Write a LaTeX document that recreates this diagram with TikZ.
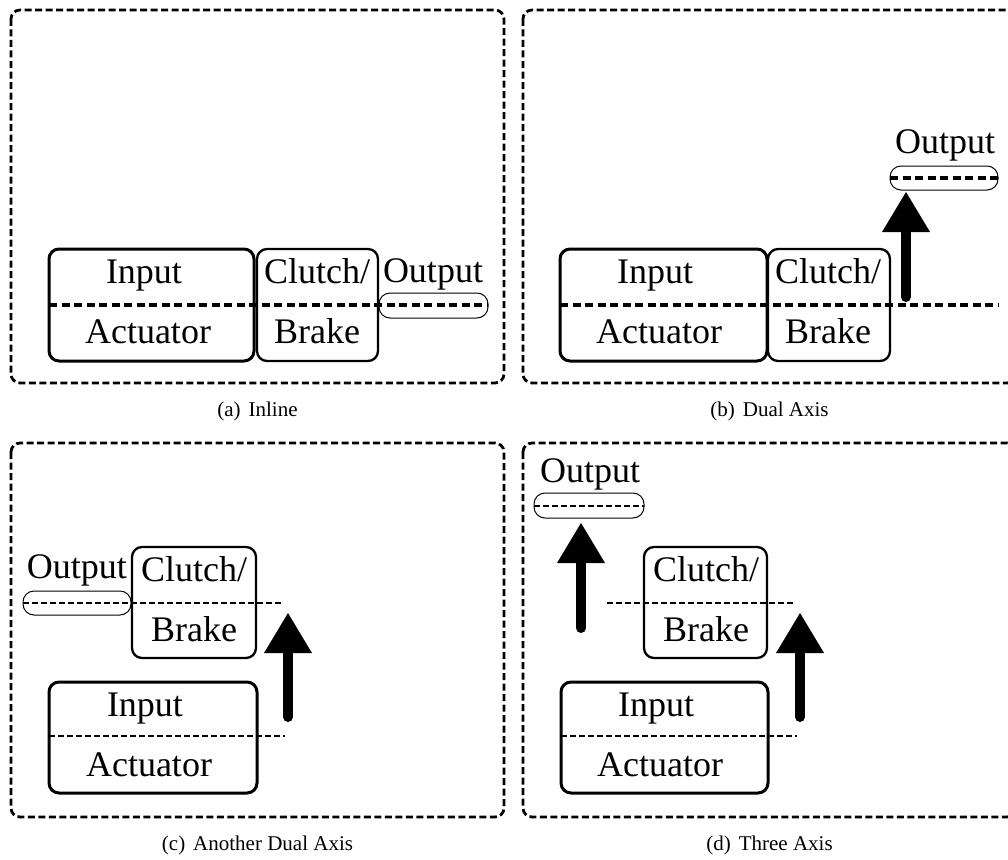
\documentclass[tikz,border=0pt]{standalone}
\usepackage{fontspec}
\setmainfont{Liberation Serif}
\usetikzlibrary{arrows.meta}
\tikzset{
  panel/.style={draw, line width=2.8pt, dash pattern=on 7pt off 3.5pt, rounded corners=9pt},
  inbox/.style={draw, line width=3pt, rounded corners=10pt, inner sep=0pt, minimum height=112pt},
  cbbox/.style={draw, line width=2.3pt, rounded corners=10pt, inner sep=0pt, minimum height=112pt},
  outbox/.style={draw, line width=1pt, rounded corners=11pt, inner sep=0pt, minimum height=25pt},
  axisA/.style={line width=3.2pt, dash pattern=on 8pt off 4.5pt},
  axisB/.style={line width=2.4pt, dash pattern=on 5.5pt off 3.5pt},
  bigarrow/.style={line width=10pt, line cap=round, -{Triangle[width=48pt,length=40pt,line width=0pt]}},
  lbl/.style={font=\fontsize{36}{40}\selectfont, inner sep=0pt, anchor=base},
  captxt/.style={font=\fontsize{21}{24}\selectfont, inner sep=0pt}
}
\begin{document}
\begin{tikzpicture}[x=1pt,y=-1pt]
\useasboundingbox (0,0) rectangle (1008,859);
\clip (0,0) rectangle (1008,859);
% ---------- panel (a) ----------
\draw[panel] (11,10) rectangle (504,383);
\node[inbox, minimum width=205pt] (ia) at (151.5,305) {};
\node[cbbox, minimum width=121pt] (ca) at (317.5,305) {};
\node[outbox, minimum width=109pt] (oa) at (433.5,305.5) {};
\node[lbl] (ia1) at (144,283) {Input};
\node[lbl] (ia2) at (148,343) {Actuator};
\node[lbl] (ca1) at (317,283) {Clutch/};
\node[lbl] (ca2) at (317,343) {Brake};
\node[lbl] (oat) at (433,282) {Output};
\coordinate (a1) at (49,305);
\coordinate (a2) at (488,305);
\draw[axisA] (a1) -- (a2);
\node[captxt] (capa) at (257.5,411) {(a)\hspace{8pt}Inline};
% ---------- panel (b) ----------
\draw[panel] (523,10) rectangle (1016,383);
\node[inbox, minimum width=207pt] (ib) at (663.5,305) {};
\node[cbbox, minimum width=122pt] (cb) at (829,305) {};
\node[outbox, minimum width=108pt, minimum height=24pt] (ob) at (944,178) {};
\node[lbl] (ib1) at (655,283) {Input};
\node[lbl] (ib2) at (659,343) {Actuator};
\node[lbl] (cb1) at (828,283) {Clutch/};
\node[lbl] (cb2) at (828,343) {Brake};
\node[lbl] (obt) at (945,153) {Output};
\coordinate (b1) at (560,305);
\coordinate (b2) at (998,305);
\draw[axisA] (b1) -- (b2);
\coordinate (b3) at (890,178);
\coordinate (b4) at (1000,178);
\draw[axisA] (b3) -- (b4);
\coordinate (bs) at (906,297);
\coordinate (be) at (906,192);
\draw[bigarrow] (bs) -- (be);
\node[captxt] (capb) at (769.5,411) {(b)\hspace{8pt}Dual Axis};
% ---------- panel (c) ----------
\draw[panel] (11,443) rectangle (504,817);
\node[outbox, minimum width=108pt, minimum height=24pt] (oc) at (77,603) {};
\node[cbbox, minimum width=124pt, minimum height=111pt] (cc) at (194,602.5) {};
\node[inbox, minimum width=208pt, minimum height=111pt] (ic) at (153,737.5) {};
\node[lbl] (oct) at (77,578) {Output};
\node[lbl] (cc1) at (194,581) {Clutch/};
\node[lbl] (cc2) at (194,641) {Brake};
\node[lbl] (ic1) at (145,716) {Input};
\node[lbl] (ic2) at (149,776) {Actuator};
\coordinate (c1) at (23,603);
\coordinate (c2) at (283,603);
\draw[axisB] (c1) -- (c2);
\coordinate (c3) at (49,736);
\coordinate (c4) at (285,736);
\draw[axisB] (c3) -- (c4);
\coordinate (cs) at (288,717);
\coordinate (ce) at (288,613);
\draw[bigarrow] (cs) -- (ce);
\node[captxt] (capc) at (257.5,845) {(c)\hspace{8pt}Another Dual Axis};
% ---------- panel (d) ----------
\draw[panel] (523,443) rectangle (1016,817);
\node[outbox, minimum width=110pt] (od) at (589,505.5) {};
\node[cbbox, minimum width=123pt, minimum height=111pt] (cd) at (705.5,602.5) {};
\node[inbox, minimum width=207pt, minimum height=111pt] (id) at (664.5,737.5) {};
\node[lbl] (odt) at (590,482) {Output};
\node[lbl] (cd1) at (706,581) {Clutch/};
\node[lbl] (cd2) at (706,641) {Brake};
\node[lbl] (id1) at (656,716) {Input};
\node[lbl] (id2) at (660,776) {Actuator};
\coordinate (d1) at (534,506);
\coordinate (d2) at (644,506);
\draw[axisB] (d1) -- (d2);
\coordinate (d3) at (607,603);
\coordinate (d4) at (793,603);
\draw[axisB] (d3) -- (d4);
\coordinate (d5) at (561,736);
\coordinate (d6) at (797,736);
\draw[axisB] (d5) -- (d6);
\coordinate (ds1) at (581,628);
\coordinate (de1) at (581,523);
\draw[bigarrow] (ds1) -- (de1);
\coordinate (ds2) at (800,717);
\coordinate (de2) at (800,613);
\draw[bigarrow] (ds2) -- (de2);
\node[captxt] (capd) at (769.5,845) {(d)\hspace{8pt}Three Axis};
\end{tikzpicture}
\end{document}
